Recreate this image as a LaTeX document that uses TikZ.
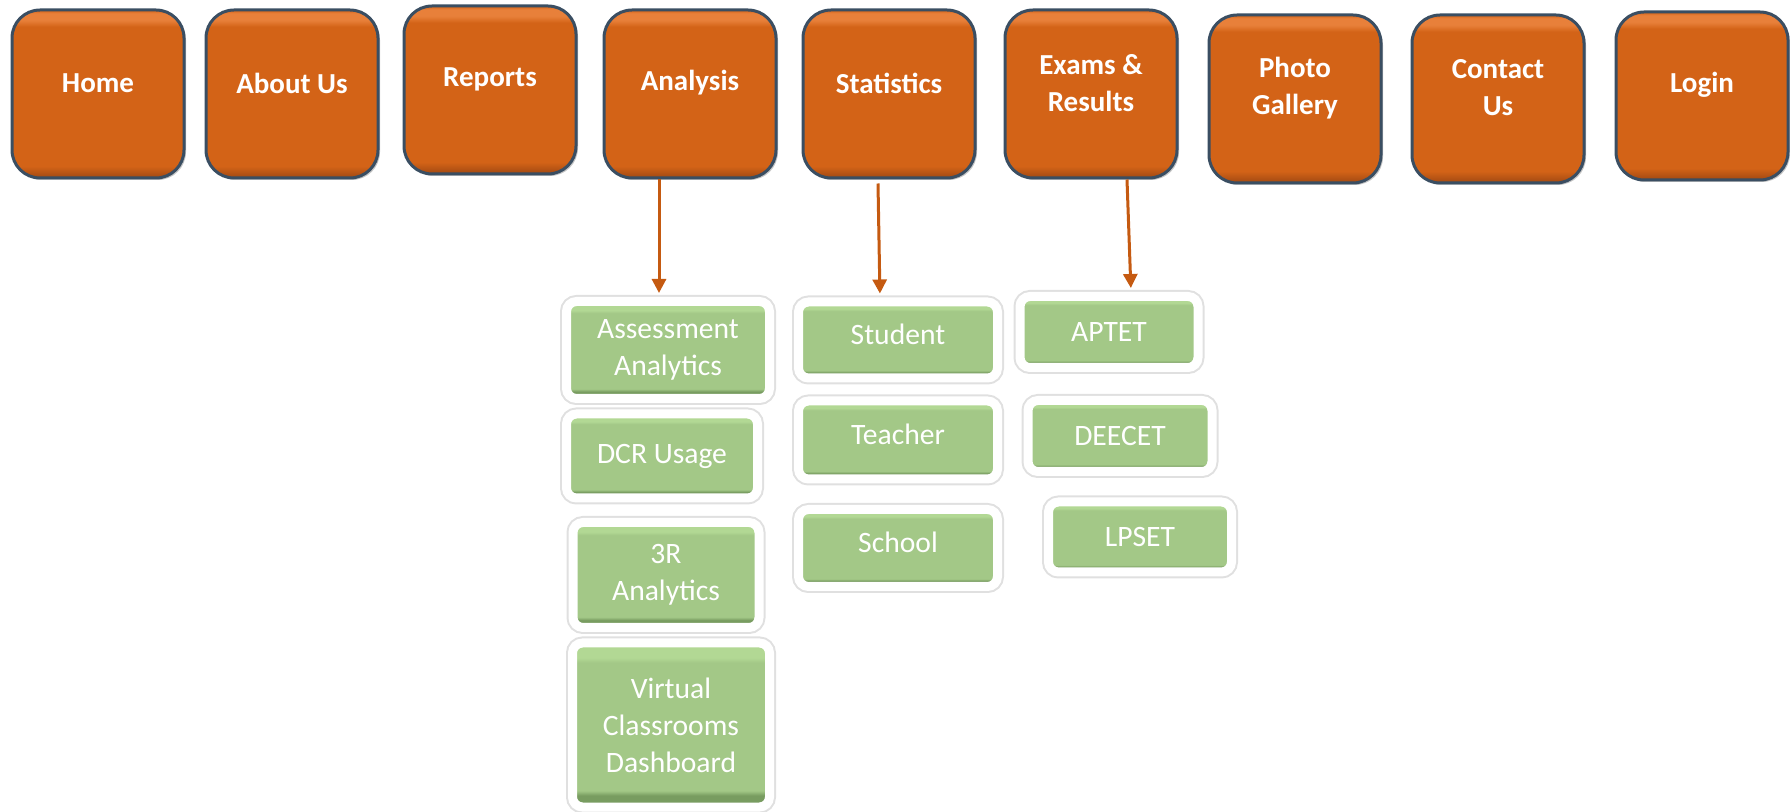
\documentclass[tikz,border=0pt]{standalone}
\usepackage{fontspec}
\setmainfont{Carlito}
\usetikzlibrary{arrows.meta,shadows}

\definecolor{navfill}{RGB}{211,99,23}
\definecolor{navlight}{RGB}{232,128,58}
\definecolor{navdark}{RGB}{160,72,18}
\definecolor{navedge}{RGB}{58,78,98}
\definecolor{subfill}{RGB}{163,200,135}
\definecolor{sublight}{RGB}{178,216,148}
\definecolor{subdark}{RGB}{120,156,96}
\definecolor{arrowcol}{RGB}{197,90,17}

% bevel look: dark band at the bottom, light band at the top
\pgfdeclareverticalshading{navbevel}{100bp}{color(0bp)=(navdark); color(25bp)=(navdark);
  color(28.5bp)=(navfill); color(70bp)=(navfill); color(72bp)=(navlight);
  color(74bp)=(navlight); color(75bp)=(navfill); color(100bp)=(navfill)}
\pgfdeclareverticalshading{subbevel}{100bp}{color(0bp)=(subdark); color(28.5bp)=(subdark);
  color(30bp)=(subfill); color(69bp)=(subfill); color(70.5bp)=(sublight);
  color(75bp)=(sublight); color(100bp)=(sublight)}

\tikzset{
  navbox/.style={draw=navedge, line width=1.5pt, shading=navbevel, rounded corners=14pt,
    minimum width=86pt, minimum height=84pt, inner sep=0pt,
    drop shadow={shadow xshift=1pt, shadow yshift=-1pt, opacity=0.45}},
  navtext/.style={text=white, font=\fontsize{14.5}{18.5}\selectfont\bfseries,
    align=center, yshift=5.5pt},
  subbox/.style={shading=subbevel, draw=white, line width=4.5pt, rounded corners=5pt,
    preaction={draw=black!12, line width=6.5pt},
    text=white, font=\fontsize{14.8}{18.5}\selectfont, align=center, inner sep=0pt},
  subone/.style={text height=10pt, text depth=5.7pt},
  navarrow/.style={draw=arrowcol, line width=1.5pt,
    -{Triangle[width=7pt,length=7pt]}, shorten >=2pt}
}

\begin{document}
\begin{tikzpicture}[x=0.5pt,y=-0.5pt]
  \useasboundingbox (0,0) rectangle (1790,812);
  % top menu
  \draw
    (98,94) node[navbox, label={[navtext]center:Home}] (home){}
    (292,94) node[navbox, label={[navtext]center:About Us}] (about){}
    (490,90) node[navbox, label={[navtext]center:Reports}] (reports){}
    (690,94) node[navbox, label={[navtext]center:Analysis}] (analysis){}
    (889,94) node[navbox, label={[navtext]center:Statistics}] (statistics){}
    (1091,94) node[navbox, label={[navtext]center:Exams \&\\Results}] (exams){}
    (1295,99) node[navbox, label={[navtext]center:Photo\\Gallery}] (photo){}
    (1498,99) node[navbox, label={[navtext]center:Contact\\Us}] (contact){}
    (1702,96) node[navbox, label={[navtext]center:Login}] (login){};
  % sub menus
  \draw
    (668,350) node[subbox, minimum width=101.5pt, minimum height=48.5pt] (assess){Assessment\\Analytics}
    (662,456) node[subbox, minimum width=95.5pt, minimum height=42pt] (dcr){DCR Usage}
    (666,575) node[subbox, minimum width=93pt, minimum height=52.5pt] (threer){3R\\Analytics}
    (671,725) node[subbox, minimum width=98.5pt, minimum height=82pt] (virtual){Virtual\\Classrooms\\Dashboard}
    (898,340) node[subbox, subone, minimum width=99.5pt, minimum height=38pt] (student){Student}
    (898,440) node[subbox, subone, minimum width=99.5pt, minimum height=39pt] (teacher){Teacher}
    (898,548) node[subbox, subone, minimum width=99.5pt, minimum height=38.5pt] (school){School}
    (1109,332) node[subbox, minimum width=89pt, minimum height=35.5pt] (aptet){APTET}
    (1120,436) node[subbox, minimum width=92pt, minimum height=35.5pt] (deecet){DEECET}
    (1140,537) node[subbox, minimum width=91.5pt, minimum height=35pt] (lpset){LPSET};
  \begin{scope}[navarrow]
    \draw ([xshift=-15.5pt]analysis.south) to ([xshift=-4.5pt]assess.north);
    \draw ([xshift=-5.5pt,yshift=-2pt]statistics.south) to ([xshift=-9pt]student.north);
    \draw ([xshift=18pt]exams.south) to ([xshift=11pt]aptet.north);
  \end{scope}
\end{tikzpicture}
\end{document}
